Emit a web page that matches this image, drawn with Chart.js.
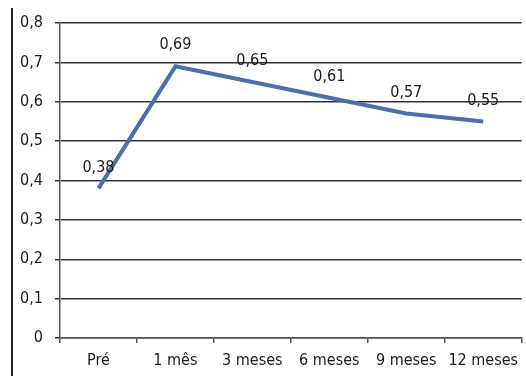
<!DOCTYPE html>
<html>
<head>
<meta charset="utf-8">
<script src="https://cdn.jsdelivr.net/npm/chart.js@4.4.1/dist/chart.umd.min.js"></script>
<style>
    html, body { margin: 0; padding: 0; background: #fff; }
    #wrap { position: relative; width: 526px; height: 376px; }
    #frame { position: absolute; left: 11px; top: 8px; width: 2px; height: 368px; background: #222; }
    canvas { position: absolute; left: 0; top: 0; }
</style>
</head>
<body>
<div id="wrap">
    <div id="frame"></div>
    <canvas id="chart" width="526" height="376"></canvas>
</div>
<script>
// periodos e valores
const periodos = ['Pré', '1 mês', '3 meses', '6 meses', '9 meses', '12 meses'];
const valores = [0.38, 0.69, 0.65, 0.61, 0.57, 0.55];

const fontFamily = '"Liberation Sans Narrow", "DejaVu Sans Condensed", "Open Sans", sans-serif';
const virgula = (v) => (v === 0 ? '0' : v.toFixed(1).replace('.', ','));

// rótulos de valor acima de cada ponto
const rotulos = {
    id: 'rotulos',
    afterDatasetsDraw(chart) {
        const ctx = chart.ctx;
        const meta = chart.getDatasetMeta(0);
        ctx.save();
        ctx.font = '16px ' + fontFamily;
        ctx.fillStyle = '#1a1a1a';
        ctx.textAlign = 'center';
        ctx.textBaseline = 'bottom';
        meta.data.forEach((pt, i) => {
            ctx.fillText(valores[i].toFixed(2).replace('.', ','), pt.x, pt.y - 13);
        });
        ctx.restore();
    }
};

const ctx = document.getElementById('chart').getContext('2d');
new Chart(ctx, {
    type: 'line',
    data: {
        labels: periodos,
        datasets: [{
            data: valores,
            borderColor: '#4a6fab',
            borderWidth: 4,
            pointRadius: 0,
            tension: 0,
            fill: false,
        }],
    },
    options: {
        responsive: false,
        animation: false,
        layout: { padding: { top: 23, right: 0, bottom: 0, left: 0 } },
        plugins: {
            legend: { display: false },
            tooltip: { enabled: false },
        },
        scales: {
            x: {
                offset: true,
                grid: {
                    offset: true,
                    drawOnChartArea: false,
                    drawTicks: true,
                    tickLength: 5,
                    color: '#555',
                    lineWidth: 1.5,
                },
                border: { color: '#555', width: 1.5 },
                ticks: {
                    color: '#1a1a1a',
                    font: { family: fontFamily, size: 16 },
                    padding: 8,
                    maxRotation: 0,
                    autoSkip: false,
                },
                afterFit(scale) { scale.height = 38; },
            },
            y: {
                min: 0,
                max: 0.8,
                ticks: {
                    stepSize: 0.1,
                    color: '#1a1a1a',
                    font: { family: fontFamily, size: 16 },
                    padding: 12,
                    callback: (v) => virgula(Math.round(v * 10) / 10),
                },
                grid: {
                    color: '#333',
                    lineWidth: 1.5,
                    tickLength: 5,
                },
                border: { color: '#555', width: 1.5 },
                afterFit(scale) { scale.width = 60; },
            },
        },
    },
    plugins: [rotulos],
});
</script>
</body>
</html>
